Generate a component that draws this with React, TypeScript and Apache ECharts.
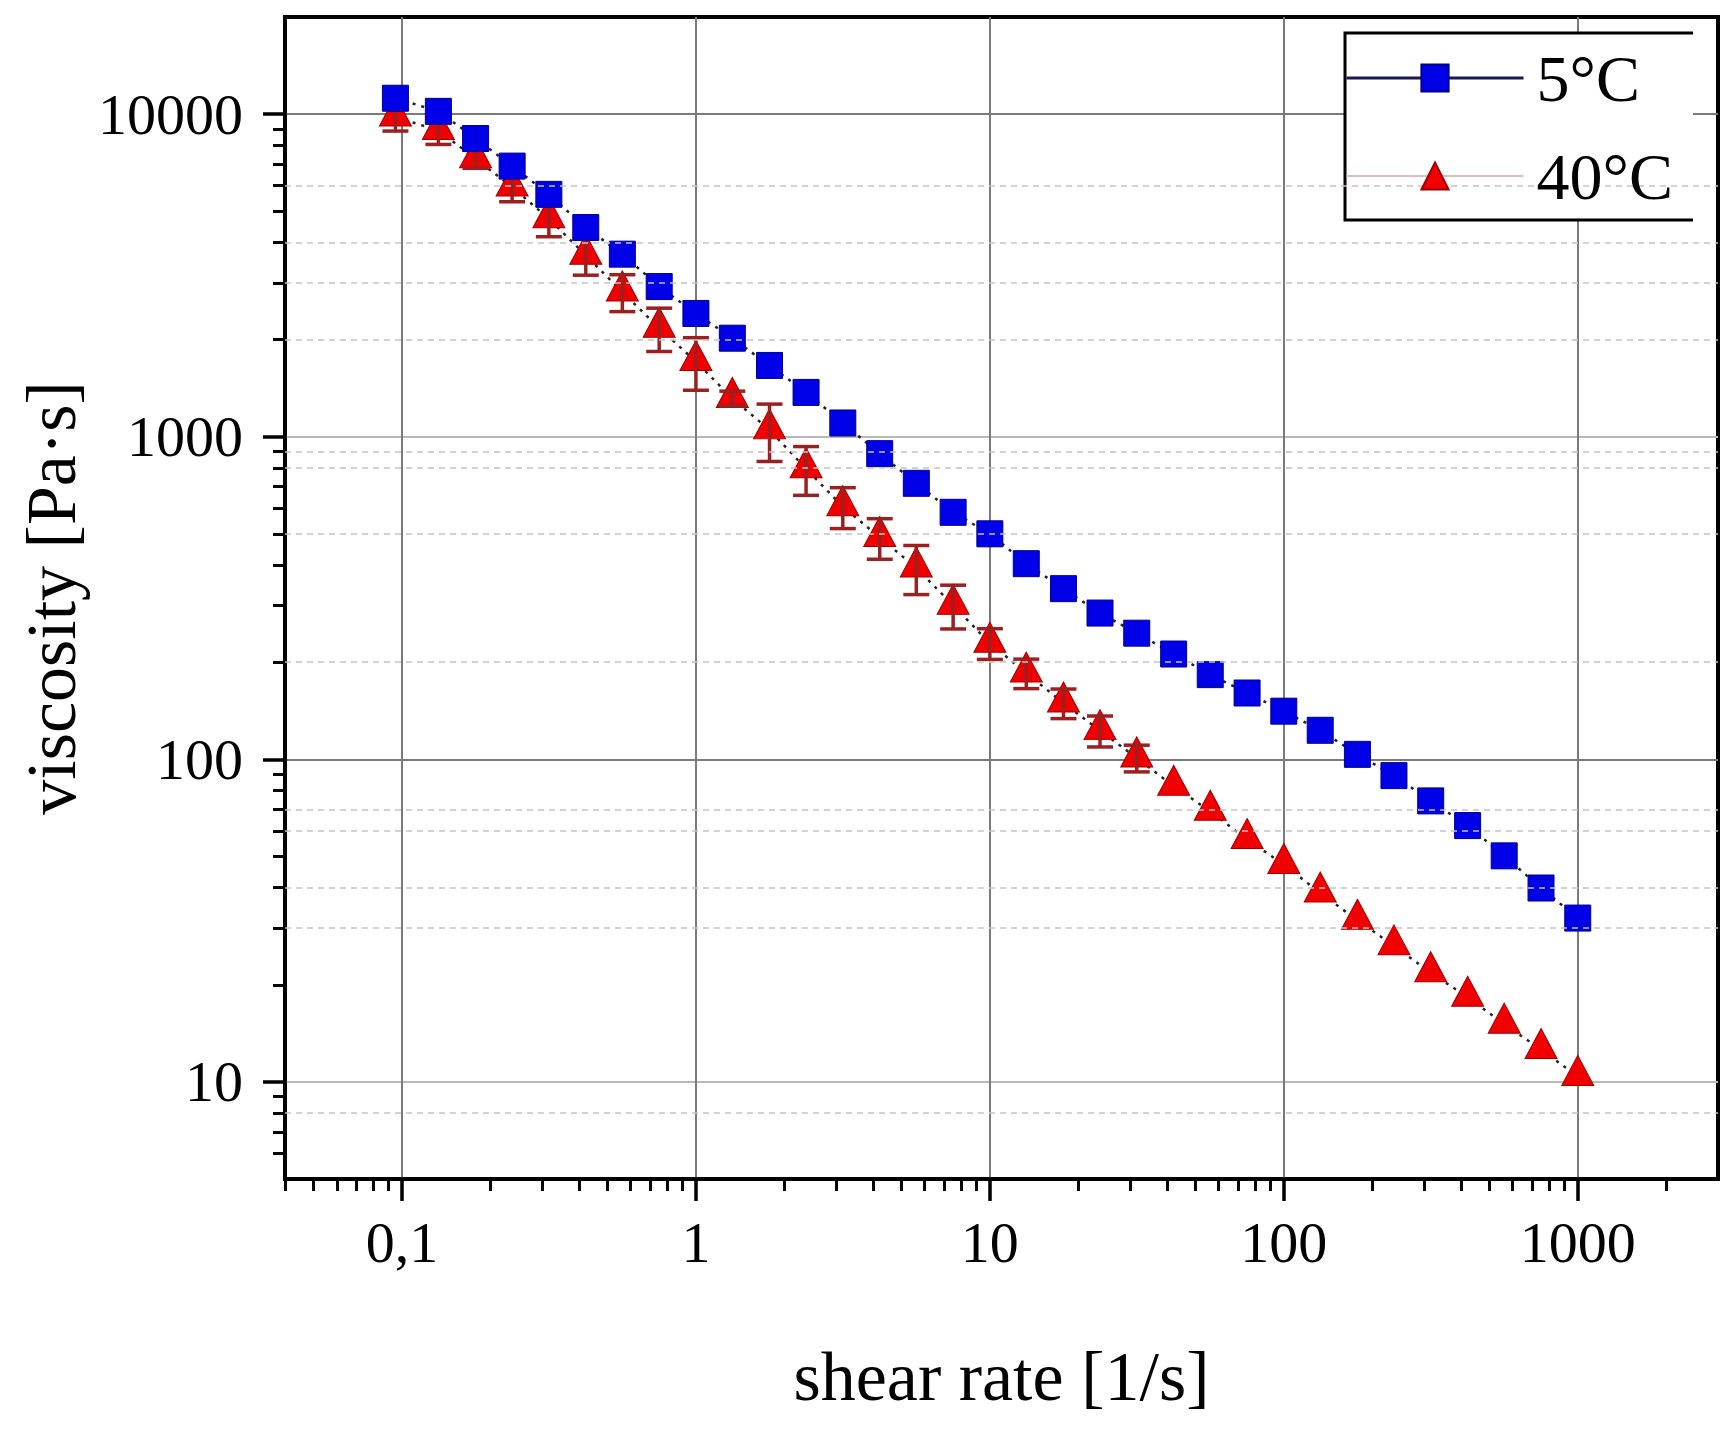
import React, { useEffect, useRef } from "react";
import * as echarts from "echarts";

// shear rate [1/s]
const shearRate = [
  0.095, 0.133, 0.178, 0.237, 0.316, 0.422, 0.562, 0.75, 1, 1.33, 1.78, 2.37,
  3.16, 4.22, 5.62, 7.5, 10, 13.3, 17.8, 23.7, 31.6, 42.2, 56.2, 75, 100, 133,
  178, 237, 316, 422, 562, 750, 1000,
];
// viscosity [Pa·s] at 5°C
const visc5 = [
  11200, 10200, 8400, 6900, 5640, 4450, 3680, 2920, 2410, 2020, 1663, 1372,
  1103, 886, 717, 583, 500, 404, 338, 284, 246, 212, 183, 160.5, 141, 123,
  103.6, 89, 74.3, 62.3, 50.2, 39.9, 32.2,
];
// viscosity [Pa·s] at 40°C
const visc40 = [
  9790, 8900, 7270, 5940, 4740, 3650, 2810, 2170, 1710, 1314, 1050, 795, 607,
  487, 392, 300, 229, 185, 149.4, 122.7, 101, 82.5, 69, 56.4, 47.2, 38.5, 31.7,
  26.4, 21.8, 18.3, 15.1, 12.6, 10.4,
];
// standard deviation at 40°C (null = not visible)
const err40: (number | null)[] = [
  930, 846, 478, 590, 572, 483, 368, 333, 317, 70, 212, 137, 88, 70, 68, 46.5,
  25, 19.4, 15.7, 13.5, 9.6, null, null, null, null, null, null, null, null,
  null, null, null, null,
];

const xTicks = [0.1, 1, 10, 100, 1000];
const yTicks = [10, 100, 1000, 10000];
const yMinorGrid = [6000, 4000, 3000, 2000, 900, 800, 500, 200, 70, 60, 40, 30, 8];

const seriesNames = ["5°C", "40°C"];
const xTitle = "shear rate [1/s]";
const yTitle = "viscosity [Pa·s]";

const FONT = "'Liberation Serif', 'DejaVu Serif', serif";

export default function App() {
  const ref = useRef<HTMLDivElement>(null);

  useEffect(() => {
    document.body.style.margin = "0";
    const chart = echarts.init(ref.current!, null, { renderer: "svg" });

    const errData = shearRate
      .map((x, i) =>
        err40[i] == null ? null : [x, visc40[i] - (err40[i] as number), visc40[i] + (err40[i] as number)]
      )
      .filter((d) => d != null);

    const axisCommon = {
      type: "log",
      logBase: 10,
      axisLine: { show: true, onZero: false, lineStyle: { color: "#000", width: 3.5 } },
      minorTick: { show: true, splitNumber: 9, length: 12, lineStyle: { color: "#000", width: 3 } },
      minorSplitLine: { show: false },
      nameLocation: "middle",
      nameTextStyle: { fontFamily: FONT, fontSize: 70, color: "#000" },
    };

    const option: any = {
      animation: false,
      backgroundColor: "#fff",
      grid: {
        left: 285,
        right: 18,
        top: 17,
        bottom: 254,
        show: true,
        borderColor: "#000",
        borderWidth: 4,
        backgroundColor: "transparent",
      },
      xAxis: {
        ...axisCommon,
        min: 0.04,
        max: 3000,
        axisTick: {
          show: true,
          inside: false,
          length: 22,
          customValues: xTicks,
          lineStyle: { color: "#000", width: 3.5 },
        },
        axisLabel: {
          customValues: xTicks,
          margin: 34,
          fontFamily: FONT,
          fontSize: 58,
          color: "#000",
          formatter: (v: number) => (Math.abs(v - 0.1) < 1e-9 ? "0,1" : String(Math.round(v))),
        },
        splitLine: { show: true, lineStyle: { color: "#7a7a7a", width: 2 } },
        name: xTitle,
        nameGap: 162,
      },
      yAxis: {
        ...axisCommon,
        min: 5,
        max: 20000,
        axisTick: {
          show: true,
          inside: false,
          length: 22,
          customValues: yTicks,
          lineStyle: { color: "#000", width: 3.5 },
        },
        axisLabel: {
          customValues: yTicks,
          margin: 42,
          fontFamily: FONT,
          fontSize: 58,
          color: "#000",
          formatter: (v: number) => String(Math.round(v)),
        },
        splitLine: { show: true, lineStyle: { color: ["#b8b8b8", "#7a7a7a"], width: 2 } },
        name: yTitle,
        nameGap: 199,
      },
      legend: {
        orient: "vertical",
        left: 1345,
        top: 44,
        padding: 0,
        itemWidth: 177,
        itemHeight: 34,
        itemGap: 30,
        selectedMode: false,
        z: 6,
        textStyle: { fontFamily: FONT, fontSize: 66, color: "#000", lineHeight: 68, padding: [0, 0, 0, 8] },
        data: [
          { name: seriesNames[0], lineStyle: { color: "#1a1a50", type: "solid", width: 3 } },
          { name: seriesNames[1], lineStyle: { color: "#dcbcbc", type: "solid", width: 2 } },
        ],
      },
      graphic: [
        {
          type: "rect",
          z: 5,
          silent: true,
          shape: { x: 1345, y: 33, width: 348, height: 187 },
          style: { fill: "#fff" },
        },
        {
          type: "polyline",
          z: 5,
          silent: true,
          shape: { points: [[1693, 33], [1345, 33], [1345, 220], [1693, 220]] },
          style: { stroke: "#000", lineWidth: 3, fill: null },
        },
      ],
      series: [
        {
          type: "line",
          name: "minor grid",
          data: [],
          z: 1,
          silent: true,
          markLine: {
            silent: true,
            symbol: "none",
            label: { show: false },
            lineStyle: { color: "#c4c4c4", type: [6, 5], width: 1.5 },
            data: yMinorGrid.map((v) => ({ yAxis: v })),
          },
        },
        {
          type: "line",
          name: seriesNames[1],
          data: shearRate.map((x, i) => [x, visc40[i]]),
          z: 2,
          silent: true,
          symbol: "triangle",
          symbolSize: [32, 30],
          symbolOffset: [0, -6],
          itemStyle: { color: "#f00000", borderColor: "#a00000", borderWidth: 1 },
          lineStyle: { color: "#222", width: 2.5, type: [3, 6] },
        },
        {
          type: "custom",
          name: "40°C error",
          data: errData,
          z: 3,
          silent: true,
          encode: { x: 0, y: [1, 2] },
          renderItem: (_params: any, api: any) => {
            const x = api.value(0);
            const lo = api.coord([x, api.value(1)]);
            const hi = api.coord([x, api.value(2)]);
            const cap = 13;
            const st = { stroke: "#9b2020", lineWidth: 3.5 };
            return {
              type: "group",
              children: [
                { type: "line", shape: { x1: lo[0], y1: lo[1], x2: hi[0], y2: hi[1] }, style: st },
                { type: "line", shape: { x1: lo[0] - cap, y1: lo[1], x2: lo[0] + cap, y2: lo[1] }, style: st },
                { type: "line", shape: { x1: hi[0] - cap, y1: hi[1], x2: hi[0] + cap, y2: hi[1] }, style: st },
              ],
            };
          },
        },
        {
          type: "line",
          name: seriesNames[0],
          data: shearRate.map((x, i) => [x, visc5[i]]),
          z: 4,
          silent: true,
          symbol: "rect",
          symbolSize: 26,
          itemStyle: { color: "#0000e8", borderColor: "#00008a", borderWidth: 1 },
          lineStyle: { color: "#222", width: 2.5, type: [3, 6] },
        },
      ],
    };

    chart.setOption(option);
    return () => chart.dispose();
  }, []);

  return (
    <div
      ref={ref}
      style={{ position: "absolute", left: 0, top: 0, width: 1736, height: 1433, background: "#fff" }}
    />
  );
}
